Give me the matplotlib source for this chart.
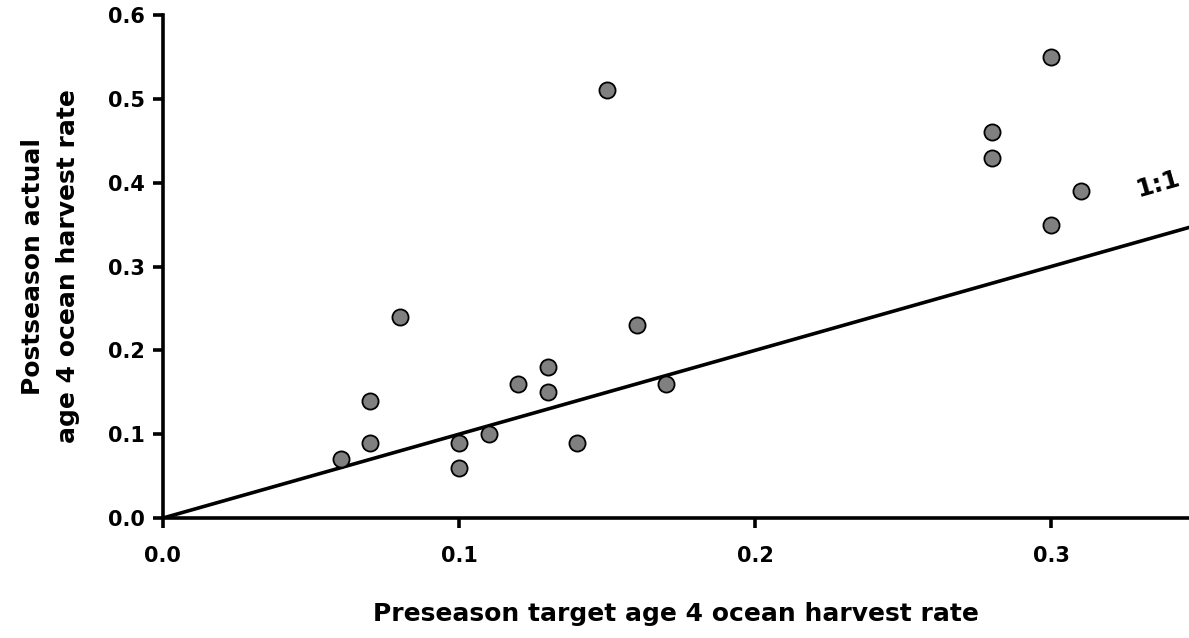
import matplotlib
matplotlib.use("Agg")
import matplotlib.pyplot as plt

# Preseason target vs postseason actual age 4 ocean harvest rate
preseason = [0.06, 0.07, 0.07, 0.08, 0.10, 0.10, 0.11, 0.12, 0.13, 0.13,
             0.14, 0.15, 0.16, 0.17, 0.28, 0.28, 0.30, 0.30, 0.31]
postseason = [0.07, 0.14, 0.09, 0.24, 0.09, 0.06, 0.10, 0.16, 0.18, 0.15,
              0.09, 0.51, 0.23, 0.16, 0.46, 0.43, 0.55, 0.35, 0.39]

x_ticks = [0.0, 0.1, 0.2, 0.3]
y_ticks = [0.0, 0.1, 0.2, 0.3, 0.4, 0.5, 0.6]

plt.rcParams['font.family'] = ['DejaVu Sans']
plt.rcParams['font.weight'] = 'bold'

fig = plt.figure(figsize=(11.89, 6.38), dpi=100)
ax = fig.add_axes([0.137, 0.188, 0.863, 0.7885])

# 1:1 line
ax.plot([0, 0.35], [0, 0.35], color='black', linewidth=2.6, zorder=2)
ax.scatter(preseason, postseason, s=135, c='#808080', edgecolors='black',
           linewidths=1.3, zorder=3)

ax.text(0.336, 0.398, '1:1', fontsize=18, fontweight='bold', rotation=16,
        ha='center', va='center')

ax.set_xlim(0, 0.3466)
ax.set_ylim(0, 0.6)
ax.set_xticks(x_ticks)
ax.set_yticks(y_ticks)
ax.set_xticklabels([f"{v:.1f}" for v in x_ticks])
ax.set_yticklabels([f"{v:.1f}" for v in y_ticks])

for side in ['top', 'right']:
    ax.spines[side].set_visible(False)
for side in ['left', 'bottom']:
    ax.spines[side].set_linewidth(2.6)

ax.tick_params(axis='both', direction='out', width=2.6, length=7,
               labelsize=15)
ax.tick_params(axis='x', pad=13)
ax.tick_params(axis='y', pad=6)

ax.set_xlabel("Preseason target age 4 ocean harvest rate", fontsize=18,
              fontweight='bold', labelpad=26)
ax.set_ylabel("Postseason actual\nage 4 ocean harvest rate", fontsize=18,
              fontweight='bold', labelpad=20, linespacing=1.6)

fig.savefig("out.png", dpi=100)
